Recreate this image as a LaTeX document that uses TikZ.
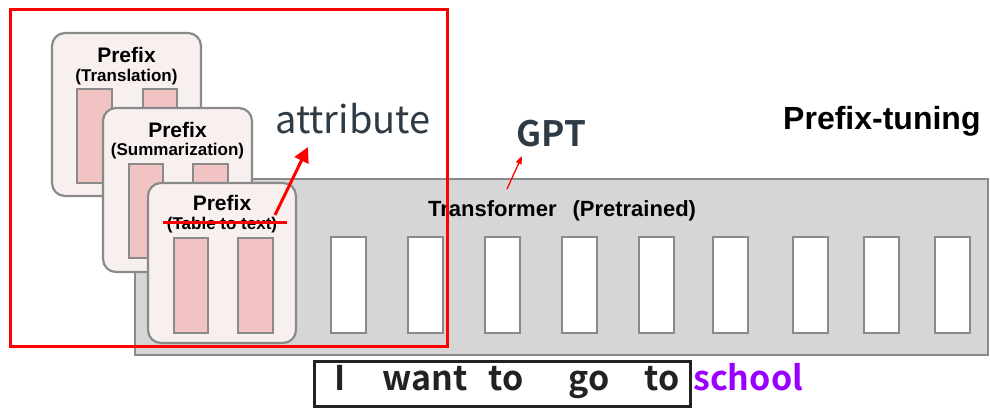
\documentclass[tikz,border=0pt]{standalone}
\usepackage{fontspec}
\setmainfont{Liberation Sans}
\newfontfamily\srcsans[BoldFont={Noto Sans CJK SC Bold}]{Noto Sans CJK SC}
\usepackage{xcolor}
\usepackage{tikz}
\usetikzlibrary{arrows.meta}
\definecolor{redline}{HTML}{FF0000}
\definecolor{edge}{HTML}{8A8A8A}
\definecolor{cardbg}{HTML}{F8EFEF}
\definecolor{barfill}{HTML}{F2C3C3}
\definecolor{gptbg}{HTML}{D6D6D6}
\definecolor{slate}{HTML}{2E3A44}
\definecolor{ink}{HTML}{222222}
\definecolor{violet}{HTML}{9900FF}
\tikzset{
  prefixcard/.style={draw=edge, line width=2.2pt, fill=cardbg, rounded corners=13pt},
  bar/.style={draw=edge, line width=1.3pt, fill=barfill},
  gptbox/.style={draw=edge, line width=2pt, fill=gptbg},
  slot/.style={draw=edge, line width=1.3pt, fill=white},
  hl/.style={draw=redline, line width=3pt},
  title/.style={inner sep=0pt, anchor=base, font=\bfseries\fontsize{21}{21}\selectfont},
  task/.style={inner sep=0pt, anchor=base, font=\bfseries\fontsize{17}{17}\selectfont},
  word/.style={inner sep=0pt, anchor=base, text=ink, font=\srcsans\bfseries\fontsize{34}{34}\selectfont}
}

\begin{document}
\begin{tikzpicture}[x=1pt, y=-1pt]
  \useasboundingbox (0,0) rectangle (990,408);

  % frozen transformer
  \draw[gptbox] (135,179) rectangle (988,355);
  \draw[slot] (331,237) rectangle ++(35,96);
  \draw[slot] (408,237) rectangle ++(35,96);
  \draw[slot] (485,237) rectangle ++(35,96);
  \draw[slot] (562,237) rectangle ++(35,96);
  \draw[slot] (639,237) rectangle ++(35,96);
  \draw[slot] (713,237) rectangle ++(35,96);
  \draw[slot] (793,237) rectangle ++(35,96);
  \draw[slot] (864,237) rectangle ++(35,96);
  \draw[slot] (935,237) rectangle ++(35,96);
  \node[inner sep=0pt, anchor=base west, font=\bfseries\fontsize{22}{22}\selectfont] (tf) at (428,216)
    {Transformer\hspace{16pt}(Pretrained)};

  % prefix cards
  \draw[prefixcard] (52,33) rectangle ++(149,163);
  \draw[bar] (77,89) rectangle ++(35,94);
  \draw[bar] (143,89) rectangle ++(34,94);
  \node[title] (p1) at (126.5,62) {Prefix};
  \node[task] (t1) at (126.5,81) {(Translation)};

  \draw[prefixcard] (103,108) rectangle ++(149,164);
  \draw[bar] (129,164) rectangle ++(34,94);
  \draw[bar] (193,164) rectangle ++(35,94);
  \node[title] (p2) at (177.5,137) {Prefix};
  \node[task] (t2) at (177.5,155) {(Summarization)};

  \draw[prefixcard] (148,183) rectangle ++(148,160);
  \draw[bar] (174,238) rectangle ++(34,95);
  \draw[bar] (238,238) rectangle ++(35,95);
  \node[title] (p3) at (222,210) {Prefix};
  \node[task] (t3) at (222,229) {(Table to text)};

  % labels
  \node[inner sep=0pt, anchor=base west, text=slate, font=\srcsans\fontsize{38}{38}\selectfont] (attr) at (275,133) {attribute};
  \node[inner sep=0pt, anchor=base west, text=slate, font=\srcsans\bfseries\fontsize{35}{35}\selectfont] (gpt) at (516,146) {GPT};
  \node[inner sep=0pt, anchor=base west, font=\bfseries\fontsize{32}{32}\selectfont] (pt) at (783,129) {Prefix-tuning};

  % sentence
  \draw[ink, line width=3pt] (314,361) rectangle (690,406);
  \node[word] (w1) at (340,390) {I};
  \node[word] (w2) at (425,390) {want};
  \node[word] (w3) at (506,390) {to};
  \node[word] (w4) at (589,390) {go};
  \node[word] (w5) at (662,390) {to};
  \node[word, anchor=base west, text=violet] (w6) at (693,390) {school};

  % red marks
  \coordinate (s0) at (163,222);
  \coordinate (s1) at (287,222);
  \coordinate (a0) at (275,215);
  \coordinate (a1) at (308,147);
  \coordinate (g0) at (507,189);
  \coordinate (g1) at (522,156);
  \draw[hl] (s0) -- (s1);
  \draw[hl, -{Triangle[length=15pt,width=15pt]}] (a0) -- (a1);
  \draw[redline, line width=1.3pt, -{Triangle[length=8pt,width=6pt]}] (g0) -- (g1);
  \draw[hl] (10,9) rectangle (447,346);
\end{tikzpicture}
\end{document}
